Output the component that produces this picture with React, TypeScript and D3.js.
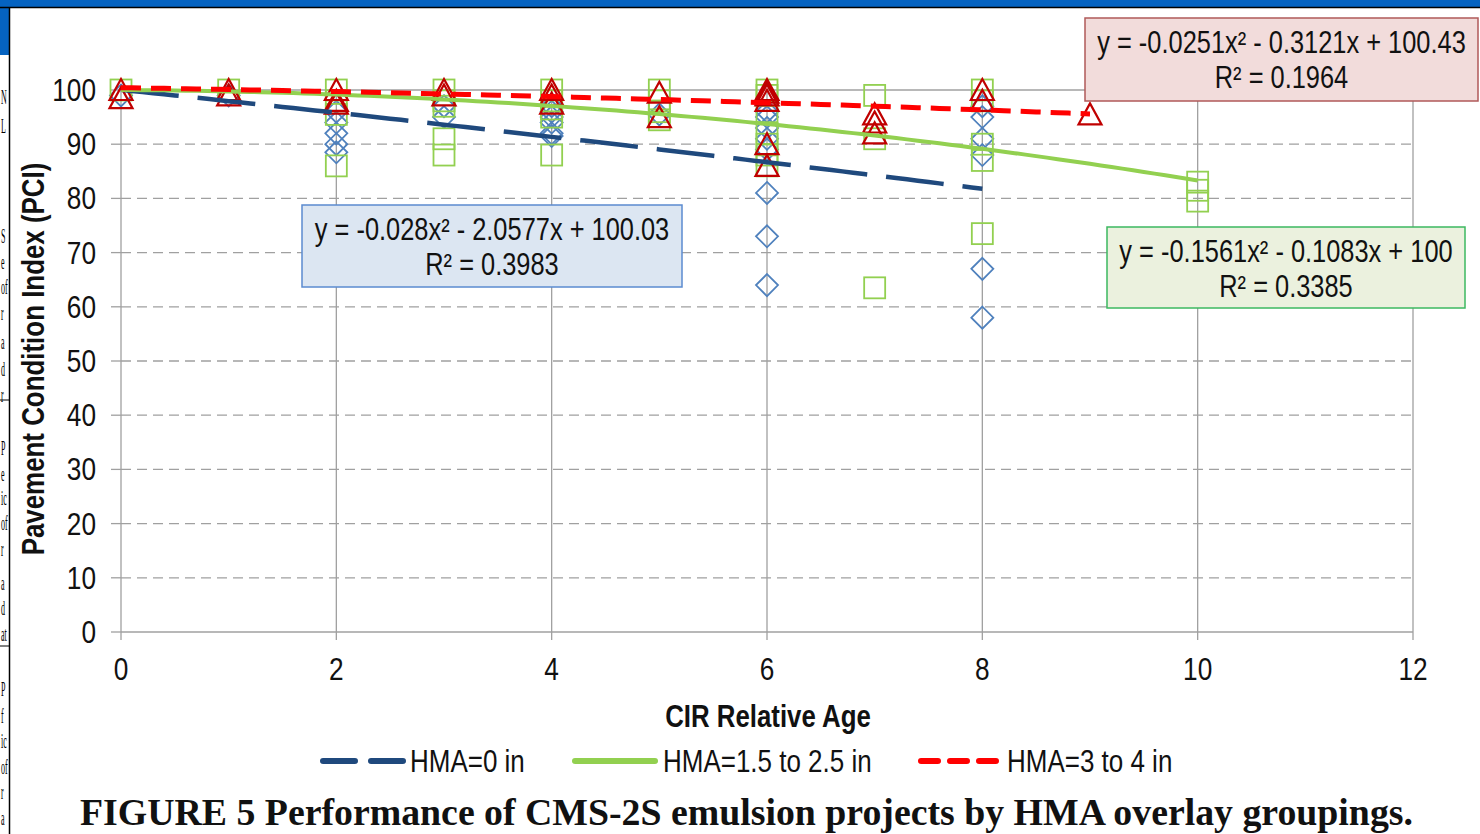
import React, { useEffect } from "react";
import * as d3 from "d3";

// PCI readings by CIR age, one array per HMA overlay group
const hma0Points: [number, number][] = [
  [0, 99], [1, 99],
  [2, 96], [2, 94], [2, 92], [2, 90], [2, 88.5],
  [3, 97], [3, 95],
  [4, 97], [4, 96], [4, 95], [4, 94], [4, 92], [4, 91.5],
  [5, 95.5],
  [6, 96], [6, 95], [6, 93], [6, 91], [6, 89], [6, 81], [6, 73], [6, 64],
  [8, 97], [8, 95], [8, 91], [8, 88], [8, 67], [8, 58],
];
const hma15Points: [number, number][] = [
  [0, 100], [1, 100],
  [2, 100], [2, 98], [2, 95.5], [2, 86],
  [3, 100], [3, 98], [3, 97], [3, 91], [3, 88],
  [4, 100], [4, 98], [4, 96.5], [4, 95], [4, 88],
  [5, 100], [5, 98], [5, 96], [5, 94.5],
  [6, 100], [6, 99], [6, 96], [6, 92], [6, 90], [6, 88], [6, 86],
  [7, 99], [7, 91], [7, 63.5],
  [8, 100], [8, 98], [8, 90], [8, 87], [8, 73.5],
  [10, 83], [10, 81.5], [10, 79.5],
];
const hma3Points: [number, number][] = [
  [0, 100], [0, 98.5], [1, 100], [1, 99],
  [2, 100], [2, 98], [2, 97.5],
  [3, 100], [3, 99],
  [4, 100], [4, 99], [4, 97.5],
  [5, 99.5], [5, 95],
  [6, 100], [6, 99.5], [6, 99], [6, 98], [6, 90], [6, 86],
  [7, 95.5], [7, 94], [7, 92],
  [8, 100], [8, 98],
  [9, 95.5],
];

// polynomial trendlines shown in the chart: [a, b, c] for a*x^2 + b*x + c, and x range
const hma0Coef = [-0.028, -2.0577, 100.03];
const hma15Coef = [-0.1561, -0.1083, 100];
const hma3Coef = [-0.0251, -0.3121, 100.43];
const hma0Range = [0, 8];
const hma15Range = [0, 10];
const hma3Range = [0, 9];

const hma0Label = ["y = -0.028x² - 2.0577x + 100.03", "R² = 0.3983"];
const hma15Label = ["y = -0.1561x² - 0.1083x + 100", "R² = 0.3385"];
const hma3Label = ["y = -0.0251x² - 0.3121x + 100.43", "R² = 0.1964"];

const legendNames = ["HMA=0 in", "HMA=1.5 to 2.5 in", "HMA=3 to 4 in"];
const xTicks = [0, 2, 4, 6, 8, 10, 12];
const yTicks = [0, 10, 20, 30, 40, 50, 60, 70, 80, 90, 100];

// page text squeezed at the left edge of the screenshot
const pageScraps: [number, string][] = [
  [97, "N"], [126, "L"], [236, "S"], [262, "e"], [287, "of"], [313, "r"],
  [342, "a"], [369, "d"], [395, "r"], [448, "P"], [474, "e"], [498, "ic"],
  [523, "of"], [549, "r"], [583, "a"], [608, "d"], [634, "at"], [689, "P"],
  [716, "f"], [741, "ic"], [767, "of"], [792, "r"], [818, "a"],
];

const W = 1480;
const H = 834;
const SANS = "'Liberation Sans', Arial, sans-serif";
const SQUEEZE = 0.82; // Arial Narrow look

const x = d3.scaleLinear().domain([0, 12]).range([121, 1413]);
const y = d3.scaleLinear().domain([0, 100]).range([632, 90]);

const fitPath = (coef: number[], range: number[]) => {
  const [a, b, c] = coef;
  const xs = d3.range(range[0], range[1] + 0.001, 0.1);
  return d3
    .line<number>()
    .x((v) => x(v))
    .y((v) => y(a * v * v + b * v + c))(xs) as string;
};

const diamond = "M0,-11L11,0L0,11L-11,0Z";
const triangle = "M0,-11L11.5,10L-11.5,10Z";

const NText = ({ tx, ty, size, anchor = "start", bold = false, rotate = 0, children }: any) => (
  <text
    transform={`translate(${tx},${ty}) rotate(${rotate}) scale(${SQUEEZE},1)`}
    textAnchor={anchor}
    fontFamily={SANS}
    fontSize={size}
    fontWeight={bold ? "bold" : "normal"}
    fill="#111"
  >
    {children}
  </text>
);

const EqBox = ({ bx, by, bw, bh, fill, stroke, lines }: any) => (
  <g>
    <rect x={bx} y={by} width={bw} height={bh} fill={fill} stroke={stroke} strokeWidth={1.5} />
    {lines.map((t: string, i: number) => (
      <NText key={i} tx={bx + bw / 2} ty={by + 35 + i * 35} size={31} anchor="middle">
        {t}
      </NText>
    ))}
  </g>
);

const App = () => {
  useEffect(() => {
    document.body.style.margin = "0";
    document.body.style.overflow = "hidden";
  }, []);

  return (
    <svg width={W} height={H} style={{ display: "block" }}>
      <rect width={W} height={H} fill="#fff" />

      {/* screenshot frame */}
      <rect x={0} y={0} width={W} height={7} fill="#0563c1" />
      <rect x={0} y={0} width={9} height={55} fill="#0563c1" />
      <line x1={0} x2={W} y1={7.5} y2={7.5} stroke="#000" strokeWidth={1.5} />
      <line x1={9.5} x2={9.5} y1={7} y2={H} stroke="#000" strokeWidth={1.5} />
      <g fontFamily="'Liberation Serif', serif" fontSize={20} fill="#000">
        {pageScraps.map(([py, t], i) => (
          <text key={i} transform={`translate(1,${py + 7}) scale(0.4,1)`}>
            {t}
          </text>
        ))}
        <line x1={0} x2={9} y1={400} y2={400} stroke="#000" />
        <line x1={0} x2={9} y1={646} y2={646} stroke="#000" />
      </g>

      {/* gridlines */}
      {yTicks.map((t) => (
        <g key={"y" + t}>
          <line
            x1={x(0)}
            x2={x(12)}
            y1={y(t)}
            y2={y(t)}
            stroke="#a0a0a0"
            strokeWidth={1.3}
            strokeDasharray={t === 0 || t === 100 ? undefined : "10,6"}
          />
          <line x1={x(0) - 10} x2={x(0)} y1={y(t)} y2={y(t)} stroke="#a0a0a0" strokeWidth={1.3} />
          <NText tx={96} ty={y(t) + 11} size={32} anchor="end">
            {t}
          </NText>
        </g>
      ))}
      {xTicks.map((t) => (
        <g key={"x" + t}>
          <line x1={x(t)} x2={x(t)} y1={y(100)} y2={y(0) + 8} stroke="#a0a0a0" strokeWidth={1.3} />
          <NText tx={x(t)} ty={680} size={32} anchor="middle">
            {t}
          </NText>
        </g>
      ))}

      {/* markers */}
      {hma0Points.map(([a, b], i) => (
        <path
          key={"d" + i}
          d={diamond}
          transform={`translate(${x(a)},${y(b)})`}
          fill="none"
          stroke="#4f81bd"
          strokeWidth={1.8}
        />
      ))}
      {hma15Points.map(([a, b], i) => (
        <rect
          key={"s" + i}
          x={x(a) - 10.5}
          y={y(b) - 10.5}
          width={21}
          height={21}
          fill="none"
          stroke="#92d050"
          strokeWidth={1.8}
        />
      ))}
      {hma3Points.map(([a, b], i) => (
        <path
          key={"t" + i}
          d={triangle}
          transform={`translate(${x(a)},${y(b)})`}
          fill="none"
          stroke="#c00000"
          strokeWidth={2.2}
        />
      ))}

      {/* trendlines */}
      <path d={fitPath(hma0Coef, hma0Range)} fill="none" stroke="#1f497d" strokeWidth={4.5} strokeDasharray="58,19" />
      <path d={fitPath(hma15Coef, hma15Range)} fill="none" stroke="#92d050" strokeWidth={4} />
      <path d={fitPath(hma3Coef, hma3Range)} fill="none" stroke="#ff0000" strokeWidth={5} strokeDasharray="20,10" />

      <EqBox bx={302} by={205} bw={380} bh={82} fill="#dce6f2" stroke="#5b8bd0" lines={hma0Label} />
      <EqBox bx={1085} by={18} bw={393} bh={83} fill="#f2dcdb" stroke="#b05a5a" lines={hma3Label} />
      <EqBox bx={1107} by={227} bw={358} bh={81} fill="#ebf1de" stroke="#3cb860" lines={hma15Label} />

      {/* axis titles */}
      <NText tx={44} ty={(y(0) + y(100)) / 2 - 2} size={31.6} anchor="middle" bold rotate={-90}>
        Pavement Condition Index (PCI)
      </NText>
      <NText tx={768} ty={727} size={31.5} anchor="middle" bold>
        CIR Relative Age
      </NText>

      {/* legend */}
      <line x1={323} x2={403} y1={761} y2={761} stroke="#1f497d" strokeWidth={6} strokeLinecap="round" strokeDasharray="32,16" />
      <NText tx={410} ty={772} size={31.7}>{legendNames[0]}</NText>
      <line x1={575} x2={655} y1={761} y2={761} stroke="#92d050" strokeWidth={6} strokeLinecap="round" />
      <NText tx={663} ty={772} size={31.7}>{legendNames[1]}</NText>
      <line x1={921} x2={1000} y1={761} y2={761} stroke="#ff0000" strokeWidth={6} strokeLinecap="round" strokeDasharray="17,12" />
      <NText tx={1007} ty={772} size={31.7}>{legendNames[2]}</NText>

      {/* figure caption */}
      <text x={80} y={825} fontFamily="'Liberation Serif', 'Times New Roman', serif" fontWeight="bold" fontSize={37.8} fill="#111">
        FIGURE 5 Performance of CMS-2S emulsion projects by HMA overlay groupings.
      </text>
    </svg>
  );
};

export default App;
